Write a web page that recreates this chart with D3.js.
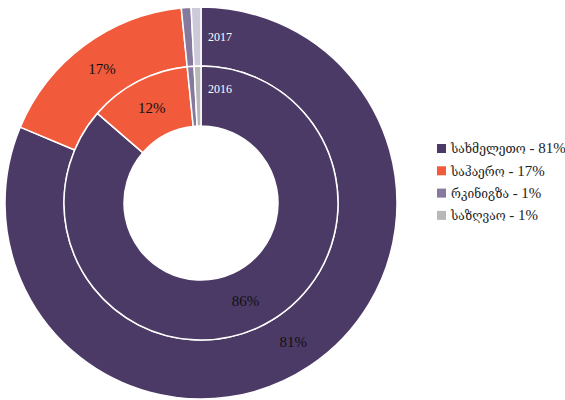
<!DOCTYPE html>
<html>
<head>
<meta charset="utf-8">
<script src="https://d3js.org/d3.v7.min.js"></script>
<style>
body { margin: 0; background: #fff; }
text { font-family: "Liberation Serif", "DejaVu Serif", serif; }
</style>
</head>
<body>
<script>
// chart data (the two small shares are just under 1%, shown rounded)
var categories = ["სახმელეთო", "საჰაერო", "რკინიგზა", "საზღვაო"];
var years = ["2017", "2016"];
var values2017 = [81, 17, 0.8, 0.8];
var values2016 = [86, 12, 0.8, 0.8];
var outerColors = ["#4b3a66", "#f15a3a", "#857a9e", "#cdc9da"];
var innerColors = ["#4b3a66", "#f15a3a", "#857a9e", "#b8b8b8"];

var width = 565, height = 400;
var cx = 201, cy = 203;
var rHole = 77, rMid = 137, rOuter = 196;

var svg = d3.select("body").append("svg")
    .attr("width", width)
    .attr("height", height);

var g = svg.append("g").attr("transform", "translate(" + cx + "," + cy + ")");

var pie = d3.pie().sort(null).value(function(d) { return d; });

function ring(values, colors, r0, r1, cls) {
    var arc = d3.arc().innerRadius(r0).outerRadius(r1);
    var slices = g.selectAll("." + cls)
        .data(pie(values))
        .enter().append("g")
        .attr("class", cls);

    slices.append("path")
        .attr("d", arc)
        .attr("fill", function(d, i) { return colors[i]; })
        .attr("stroke", "#fff")
        .attr("stroke-width", 1.5);

    //labels only for the big slices
    slices.filter(function(d) { return d.value > 5; })
        .append("text")
        .attr("transform", function(d) { return "translate(" + arc.centroid(d) + ")"; })
        .attr("text-anchor", "middle")
        .attr("dy", "0.35em")
        .attr("font-size", 15)
        .attr("fill", "#111")
        .text(function(d) { return Math.round(d.value) + "%"; });
}

ring(values2017, outerColors, rMid, rOuter, "outer");
ring(values2016, innerColors, rHole, rMid, "inner");

//year labels
g.append("text").attr("x", 7).attr("y", -(rMid + rOuter) / 2 + 4)
    .attr("font-size", 12).attr("fill", "#fff").text(years[0]);
g.append("text").attr("x", 7).attr("y", -(rHole + rMid) / 2 - 3)
    .attr("font-size", 12).attr("fill", "#fff").text(years[1]);

//legend
var legend = svg.append("g").attr("transform", "translate(437,148)");
var item = legend.selectAll(".item")
    .data(categories)
    .enter().append("g")
    .attr("class", "item")
    .attr("transform", function(d, i) { return "translate(0," + (i * 22.3) + ")"; });

item.append("rect")
    .attr("x", 0).attr("y", -4)
    .attr("width", 9).attr("height", 9)
    .attr("fill", function(d, i) { return innerColors[i]; });

var labels = item.append("text")
    .attr("x", 14).attr("y", 0)
    .attr("dy", "0.35em")
    .attr("font-size", 15)
    .attr("fill", "#222");

//georgian glyphs come from a wider fallback font, so a bit smaller
labels.append("tspan").attr("font-size", 12).text(function(d) { return d; });
labels.append("tspan").text(function(d, i) { return " - " + Math.round(values2017[i]) + "%"; });
</script>
</body>
</html>
